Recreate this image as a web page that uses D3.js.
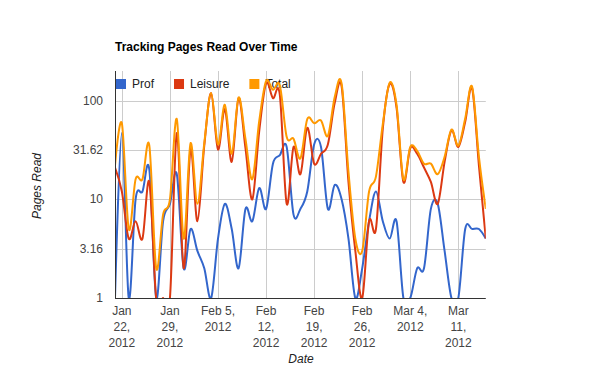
<!DOCTYPE html>
<html>
<head>
<meta charset="utf-8">
<script src="https://cdn.jsdelivr.net/npm/d3@7"></script>
<style>
  body { margin: 0; background: #fff; }
  svg { font-family: Arial, "Liberation Sans", sans-serif; display: block; }
</style>
</head>
<body>
<svg width="600" height="371"></svg>
<script>
// one value per day, Jan 21 .. Mar 15 2012
const prof = [1, 47, 1, 10, 12, 20, 1, 6, 9, 18, 2, 5, 3, 2, 1, 4, 9, 5, 2, 8,
  6, 13, 8, 23, 28, 34, 7, 8, 12, 36, 34, 8, 14, 10, 4, 1, 2, 6, 12, 6,
  4, 6, 1, 1, 2, 2, 8, 9, 3, 1, 1, 5, 5, 5, 4];
const leisure = [21, 12, 4, 6, 4, 15, 1, 1, 1, 47, 2, 32, 6, 35, 119, 32, 82, 24, 106, 33,
  10, 49, 150, 106, 115, 9, 34, 18, 53, 23, 29, 36, 95, 140, 15, 3, 1, 6, 5, 52,
  148, 85, 15, 33, 29, 21, 15, 9, 24, 50, 34, 61, 134, 22, 4];
const total = [22, 59, 5, 16, 16, 35, 2, 7, 10, 65, 4, 37, 9, 37, 120, 36, 91, 29, 108, 41,
  16, 62, 158, 129, 143, 43, 41, 26, 65, 59, 63, 44, 109, 150, 19, 4, 3, 12, 17, 58,
  152, 91, 16, 34, 31, 23, 23, 18, 27, 51, 35, 66, 139, 27, 8];

const seriesNames = ['Prof', 'Leisure', 'Total'];
const seriesColors = ['#3366cc', '#dc3912', '#ff9900'];

const yTicks = [1, 3.1623, 10, 31.623, 100];
const yTickLabels = ['1', '3.16', '10', '31.62', '100'];

const xTicks = ['2012-01-22', '2012-01-29', '2012-02-05', '2012-02-12',
  '2012-02-19', '2012-02-26', '2012-03-04', '2012-03-11'];
const xTickLabels = [
  ['Jan', '22,', '2012'], ['Jan', '29,', '2012'], ['Feb 5,', '2012'], ['Feb', '12,', '2012'],
  ['Feb', '19,', '2012'], ['Feb', '26,', '2012'], ['Mar 4,', '2012'], ['Mar', '11,', '2012']
];

const start = new Date(Date.UTC(2012, 0, 21));
const end = new Date(Date.UTC(2012, 2, 15));
const days = d3.utcDay.range(start, d3.utcDay.offset(end, 1));

const plotLeft = 115, plotRight = 485.8, plotTop = 71, plotBottom = 298;

const svg = d3.select('svg');

const x = d3.scaleUtc().domain([start, end]).range([plotLeft, plotRight]);
const y = d3.scaleLog().domain([1, 200]).range([plotBottom, plotTop]);

svg.append('defs').append('clipPath')
    .attr('id', 'plot')
  .append('rect')
    .attr('x', plotLeft)
    .attr('y', plotTop)
    .attr('width', plotRight - plotLeft)
    .attr('height', plotBottom - plotTop);

// title
svg.append('text')
    .attr('x', 115)
    .attr('y', 51)
    .attr('font-size', 12)
    .attr('font-weight', 'bold')
    .attr('fill', '#000')
    .text('Tracking Pages Read Over Time');

// grid
const grid = svg.append('g').attr('stroke', '#cccccc').attr('stroke-width', 1);
grid.selectAll('line.h')
  .data(yTicks.slice(1))
  .enter().append('line')
    .attr('x1', plotLeft)
    .attr('x2', plotRight)
    .attr('y1', d => Math.round(y(d)) + 0.5)
    .attr('y2', d => Math.round(y(d)) + 0.5);
grid.selectAll('line.v')
  .data(xTicks)
  .enter().append('line')
    .attr('x1', d => Math.round(x(new Date(d))) + 0.5)
    .attr('x2', d => Math.round(x(new Date(d))) + 0.5)
    .attr('y1', plotTop)
    .attr('y2', plotBottom);

// y tick labels
svg.append('g')
  .selectAll('text')
  .data(yTicks)
  .enter().append('text')
    .attr('x', 103)
    .attr('y', d => y(d) + 4)
    .attr('text-anchor', 'end')
    .attr('font-size', 12)
    .attr('fill', '#444')
    .text((d, i) => yTickLabels[i]);

// x tick labels, wrapped like the original
const xLabel = svg.append('g')
  .selectAll('text')
  .data(xTicks)
  .enter().append('text')
    .attr('text-anchor', 'middle')
    .attr('font-size', 12)
    .attr('fill', '#444');
xLabel.selectAll('tspan')
  .data((d, i) => xTickLabels[i].map(line => ({ line, tick: d })))
  .enter().append('tspan')
    .attr('x', d => x(new Date(d.tick)))
    .attr('y', (d, j) => 315 + j * 16)
    .text(d => d.line);

// axis titles
svg.append('text')
    .attr('transform', 'translate(41,186) rotate(-90)')
    .attr('text-anchor', 'middle')
    .attr('font-size', 12)
    .attr('font-style', 'italic')
    .attr('fill', '#222')
    .text('Pages Read');
svg.append('text')
    .attr('x', 301)
    .attr('y', 363)
    .attr('text-anchor', 'middle')
    .attr('font-size', 12)
    .attr('font-style', 'italic')
    .attr('fill', '#222')
    .text('Date');

// legend
const legend = svg.append('g');
let lx = 116;
seriesNames.forEach((name, i) => {
  legend.append('rect')
      .attr('x', lx)
      .attr('y', 79)
      .attr('width', 10)
      .attr('height', 10)
      .attr('fill', seriesColors[i]);
  const t = legend.append('text')
      .attr('x', lx + 16)
      .attr('y', 88)
      .attr('font-size', 12)
      .attr('fill', '#222')
      .text(name);
  lx += 16 + t.node().getComputedTextLength() + 20;
});

// lines
const line = d3.line()
    .x((d, i) => x(days[i]))
    .y(d => y(d))
    .curve(d3.curveCardinal.tension(0));

svg.append('g')
    .attr('clip-path', 'url(#plot)')
  .selectAll('path')
  .data([prof, leisure, total])
  .enter().append('path')
    .attr('d', line)
    .attr('fill', 'none')
    .attr('stroke', (d, i) => seriesColors[i])
    .attr('stroke-width', 2);

// axis lines
svg.append('line')
    .attr('x1', plotLeft + 0.5).attr('x2', plotLeft + 0.5)
    .attr('y1', plotTop).attr('y2', plotBottom + 1)
    .attr('stroke', '#333');
svg.append('line')
    .attr('x1', plotLeft).attr('x2', plotRight)
    .attr('y1', plotBottom + 0.5).attr('y2', plotBottom + 0.5)
    .attr('stroke', '#333');
</script>
</body>
</html>
